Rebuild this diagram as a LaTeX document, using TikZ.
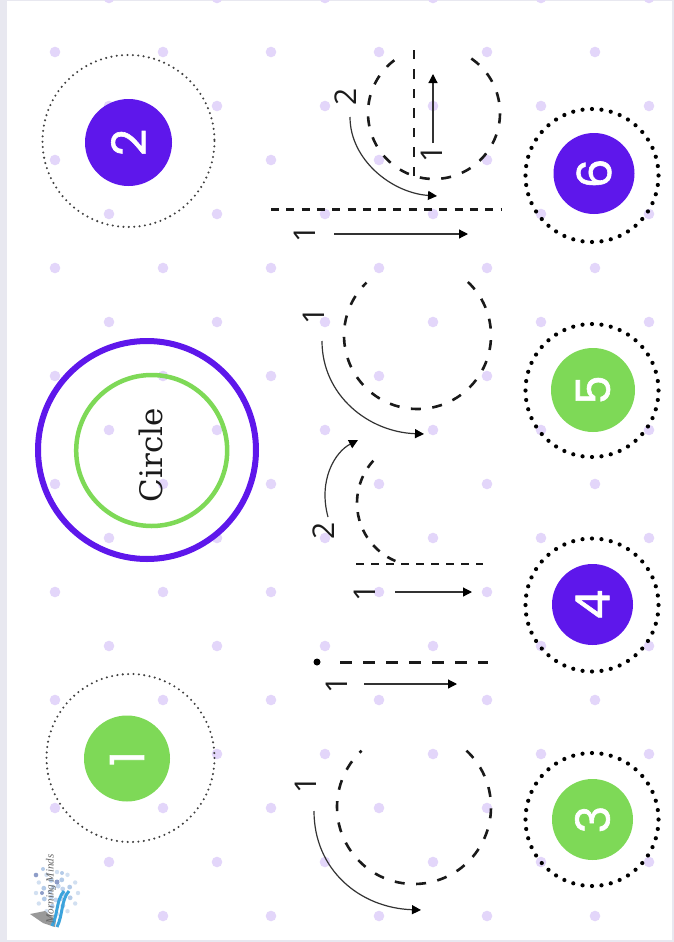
\documentclass[tikz,border=0pt]{standalone}
\usepackage{fontspec}
\setmainfont{Open Sans}
\newfontfamily\slabfont{DejaVu Serif}
\newfontfamily\digitfont[FakeBold=1.3]{Poppins}
\newfontfamily\brandfont{Liberation Serif}
\usetikzlibrary{arrows.meta}
\definecolor{lilac}{HTML}{E3D6FA}
\definecolor{royal}{HTML}{5E17EB}
\definecolor{leaf}{HTML}{7ED957}
\definecolor{strip}{HTML}{E8E8F0}
\definecolor{ink}{HTML}{1A1A1A}
\definecolor{sphere}{HTML}{B4CBE8}
\definecolor{spheredark}{HTML}{8E9DC8}
\definecolor{ribbon}{HTML}{3BA3DC}
\tikzset{
    numdisk/.style={circle,inner sep=0,text=white,font=\digitfont\fontsize{47}{47}\selectfont,rotate=90},
    smalllabel/.style={inner sep=0,text=ink,font=\fontsize{30}{30}\selectfont,rotate=90},
    finedots/.style={line width=2.3,line cap=round,color=black!75,dash pattern=on 0pt off 5.39pt},
    bigdots/.style={line width=4.2,line cap=round,color=black,dash pattern=on 0pt off 9.496pt},
    trace/.style={line width=2.6,color=ink,dash pattern=on 10pt off 11.5pt},
    tracearrow/.style={line width=1.2,color=black!80,-{Triangle[length=9pt,width=9pt,color=black]}}
}
\begin{document}
\begin{tikzpicture}[x=1pt,y=-1pt]
    \useasboundingbox (0,0) rectangle (674,942);
    \fill[strip] (0,0) rectangle (674,942);
    \fill[white] (7,1) rectangle (672,940);
    \foreach \r in {0,...,8} {
        \foreach \c in {0,...,5} {
            \fill[lilac] (109+108*\c,-2+108*\r) circle (5.3);
        }
    }
    \foreach \r in {0,...,7} {
        \foreach \c in {0,...,5} {
            \fill[lilac] (55+108*\c,52+108*\r) circle (5.3);
        }
    }
    \foreach \c in {1,...,5} {
        \fill[lilac] (55+108*\c,916) circle (5.3);
    }

    \draw[royal,line width=6] (147,450) circle (109);
    \draw[leaf,line width=4.5] (151.7,450.5) circle (75.5);
    \node[inner sep=0,text=ink,rotate=90,font=\slabfont\fontsize{31}{31}\selectfont] (title) at (151,455) {Circle};

    \draw[finedots] (130.5,758) circle (84);
    \draw[finedots] (128.5,141) circle (86);
    \node[numdisk,fill=leaf,minimum size=86] (one) at (127,758.5) {1};
    \node[numdisk,fill=royal,minimum size=87] (two) at (128.5,142.5) {2};

    \draw[bigdots] (592,175.5) circle (66.5);
    \draw[bigdots] (592,390.5) circle (66.5);
    \draw[bigdots] (592,605) circle (66.5);
    \draw[bigdots] (592,819.5) circle (66.5);
    \node[numdisk,fill=royal,minimum size=81] (six) at (594,173.5) {6};
    \node[numdisk,fill=leaf,minimum size=84] (five) at (593,390) {5};
    \node[numdisk,fill=royal,minimum size=81] (four) at (592.5,604.5) {4};
    \node[numdisk,fill=leaf,minimum size=81] (three) at (592.5,819.5) {3};

    \draw[trace] (414,807) ++(-47:77) arc (-47:227:77);
    \node[smalllabel] (cOne) at (306,785) {1};
    \coordinate (cFrom) at (314,811);
    \coordinate (cTo) at (421,910);
    \draw[tracearrow] (cFrom) .. controls (314,870) and (360,908) .. (cTo);

    \fill[black] (317,662) circle (3.5);
    \draw[trace,line width=3,dash pattern=on 11.7pt off 11.3pt] (340,662) -- (488,662);
    \node[smalllabel] (lOne) at (337,685) {1};
    \coordinate (lFrom) at (364,684);
    \coordinate (lTo) at (457,684);
    \draw[tracearrow] (lFrom) -- (lTo);

    \draw[trace,dash pattern=on 7.5pt off 7.5pt,line width=2.2] (356,564) -- (483,564);
    \draw[trace,dash pattern=on 9pt off 9.5pt] (420,503) ++(113:63) arc (113:228:63);
    \node[smalllabel] (dOne) at (365,593) {1};
    \node[smalllabel] (dTwo) at (324,531) {2};
    \coordinate (dFromA) at (395,592);
    \coordinate (dToA) at (472,592);
    \coordinate (dFromB) at (328,517);
    \coordinate (dToB) at (358,440);
    \draw[tracearrow] (dFromA) -- (dToA);
    \draw[tracearrow] (dFromB) .. controls (318,480) and (335,452) .. (dToB);

    \draw[trace] (417.5,335.5) ++(-46.7:73.5) arc (-46.7:226:73.5);
    \node[smalllabel] (gOne) at (314,316) {1};
    \coordinate (gFrom) at (322,341);
    \coordinate (gTo) at (424,434);
    \draw[tracearrow] (gFrom) .. controls (322,395) and (368,432) .. (gTo);

    \draw[trace,dash pattern=on 8pt off 7.3pt,line width=2.2] (271,209.5) -- (501,209.5);
    \draw[trace,dash pattern=on 9.5pt off 10pt,line width=2.4] (414,176) -- (414,50);
    \draw[trace] (434,113) ++(-55.6:66) arc (-55.6:242:66);
    \node[smalllabel] (bOne) at (305,234) {1};
    \node[smalllabel] (bTwo) at (346,97) {2};
    \node[smalllabel] (bThree) at (432,154) {1};
    \coordinate (bFromA) at (334,234);
    \coordinate (bToA) at (468,234);
    \coordinate (bFromB) at (350,117);
    \coordinate (bToB) at (437,196);
    \coordinate (bFromC) at (433,143);
    \coordinate (bToC) at (433,74);
    \draw[tracearrow] (bFromA) -- (bToA);
    \draw[tracearrow] (bFromB) .. controls (350,160) and (392,193) .. (bToB);
    \draw[tracearrow] (bFromC) -- (bToC);

    \foreach \a in {0,30,...,330} {
        \fill[sphere!60!white] (57,893) ++(\a:21) circle (2.2);
    }
    \foreach \a in {0,45,...,315} {
        \fill[sphere] (57,893) ++(\a+20:14) circle (2.4);
        \fill[sphere!80!white] (57,893) ++(\a+10:7) circle (2.4);
    }
    \fill[spheredark] (36,875) circle (2.3);
    \fill[spheredark] (57,882) circle (2.5);
    \fill[spheredark] (42,893) circle (2);
    \fill[sphere] (43,869) circle (2);
    \fill[sphere] (62,873) circle (2);
    \fill[black!40] (30,914) -- (45,911) -- (56,920) -- (55,927) -- (43,923) -- cycle;
    \draw[ribbon,line width=3] (69,891) .. controls (61,900) and (63,915) .. (57,927);
    \draw[ribbon,line width=3] (64,891) .. controls (56,900) and (58,915) .. (52,926);
    \node[inner sep=0,rotate=90,text=black!60,font=\brandfont\itshape\fontsize{11}{11}\selectfont] (brand) at (51,889) {Morning Minds};
\end{tikzpicture}
\end{document}
